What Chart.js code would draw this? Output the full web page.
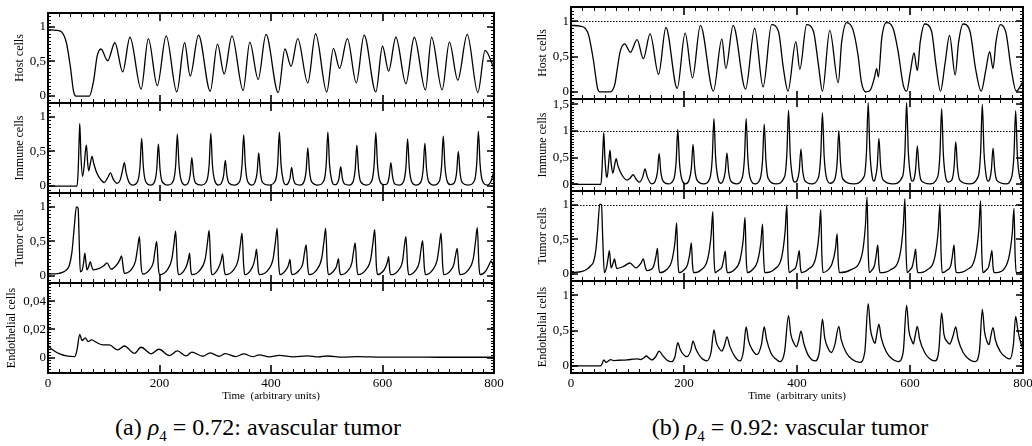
<!DOCTYPE html>
<html>
<head>
<meta charset="utf-8">
<script src="https://cdn.jsdelivr.net/npm/chart.js@4.4.1/dist/chart.umd.min.js"></script>
<style>
  body { margin: 0; background: #fff; width: 1032px; height: 446px; position: relative; overflow: hidden; }
  canvas { position: absolute; }
  .caption { position: absolute; top: 414px; font-family: "Liberation Serif", serif; font-size: 24px; color: #000; white-space: nowrap; transform: translateX(-50%); }
  .caption sub { font-size: 15px; }
</style>
</head>
<body>
<canvas id="hostA" width="510" height="106" style="left:0px;top:5px"></canvas>
<canvas id="immuneA" width="510" height="106" style="left:0px;top:95px"></canvas>
<canvas id="tumorA" width="510" height="106" style="left:0px;top:185px"></canvas>
<canvas id="endoA" width="510" height="128" style="left:0px;top:275px"></canvas>
<canvas id="hostB" width="509" height="108" style="left:523px;top:-1px"></canvas>
<canvas id="immuneB" width="509" height="108" style="left:523px;top:91px"></canvas>
<canvas id="tumorB" width="509" height="106" style="left:523px;top:183px"></canvas>
<canvas id="endoB" width="509" height="130" style="left:523px;top:273px"></canvas>
<div class="caption" style="left:258px">(a) <i>ρ</i><sub>4</sub> = 0.72: avascular tumor</div>
<div class="caption" style="left:790px">(b) <i>ρ</i><sub>4</sub> = 0.92: vascular tumor</div>
<script>
// time axis
const timeTicks = [0, 200, 400, 600, 800];

// (a) rho4 = 0.72, [time, value]
const hostA = [[0,0.96],[15,0.95],[24,0.93],[33,0.77],[40,0.43],[46,0.06],[50,0],[74,0],[82,0.23],[88,0.57],[95,0.68],[107,0.51],[120,0.77],[134,0.35],[147,0.85],[167,0.10],[180,0.83],[196,0.15],[212,0.87],[231,0.06],[245,0.77],[255,0.29],[270,0.88],[291,0.07],[304,0.75],[316,0.32],[330,0.87],[350,0.08],[362,0.78],[377,0.24],[391,0.89],[413,0.05],[425,0.68],[436,0.43],[448,0.83],[466,0.19],[480,0.90],[500,0.06],[512,0.69],[523,0.40],[537,0.83],[553,0.19],[567,0.88],[588,0.06],[600,0.72],[611,0.36],[624,0.85],[642,0.18],[657,0.85],[677,0.09],[688,0.85],[707,0.09],[720,0.78],[735,0.23],[752,0.89],[771,0.05],[784,0.66],[800,0.40]];

const immuneA = [[0,0],[52,0],[54,0.2],[56,0.7],[57,0.9],[59,0.45],[62,0.14],[65,0.3],[67,0.5],[69,0.59],[71,0.35],[73,0.22],[76,0.33],[79,0.43],[82,0.33],[88,0.18],[95,0.09],[101,0.05],[107,0.12],[112,0.19],[117,0.1],[124,0.04],[130,0.1],[134,0.24],[137,0.34],[140,0.2],[145,0.06],[152,0.015],
  [161,0.07],[165,0.28],[168,0.69],[171,0.28],[175,0.07],[184,0.015],
  [191,0.06],[195,0.24],[198,0.61],[201,0.24],[205,0.06],[215,0.015],
  [225,0.08],[229,0.3],[232,0.75],[235,0.3],[239,0.08],[246,0.015],
  [251,0.04],[255,0.16],[258,0.41],[261,0.16],[265,0.04],[275,0.015],
  [285,0.08],[289,0.3],[292,0.76],[295,0.3],[299,0.08],[306,0.015],
  [311,0.04],[315,0.15],[318,0.37],[321,0.15],[325,0.04],[334,0.015],
  [344,0.07],[348,0.3],[351,0.74],[354,0.3],[358,0.07],[366,0.015],
  [371,0.05],[375,0.19],[378,0.48],[381,0.19],[385,0.05],[396,0.015],
  [408,0.08],[412,0.31],[415,0.78],[418,0.31],[422,0.08],[427,0.02],
  [430,0.03],[434,0.11],[437,0.27],[440,0.11],[444,0.03],[452,0.015],
  [459,0.06],[463,0.22],[466,0.55],[469,0.22],[473,0.06],[484,0.015],
  [495,0.08],[499,0.31],[502,0.78],[505,0.31],[509,0.08],[514,0.02],
  [518,0.03],[522,0.11],[525,0.28],[528,0.11],[532,0.03],[540,0.015],
  [547,0.06],[551,0.24],[554,0.59],[557,0.24],[561,0.06],[571,0.015],
  [581,0.08],[585,0.31],[588,0.77],[591,0.31],[595,0.08],[602,0.02],
  [608,0.03],[612,0.14],[615,0.34],[618,0.14],[622,0.03],[630,0.015],
  [638,0.07],[642,0.27],[645,0.68],[648,0.27],[652,0.07],[660,0.015],
  [669,0.06],[673,0.25],[676,0.62],[679,0.25],[683,0.06],[692,0.015],
  [702,0.07],[706,0.29],[709,0.72],[712,0.29],[716,0.07],[722,0.02],
  [729,0.05],[733,0.2],[736,0.5],[739,0.2],[743,0.05],[754,0.015],
  [765,0.08],[769,0.32],[772,0.79],[775,0.32],[779,0.08],[788,0.015],
  [794,0.06],[798,0.16],[800,0.24]];

const tumorA = [[0,0.03],[20,0.04],[30,0.07],[38,0.15],[43,0.35],[47,0.7],[51,1.0],[54,0.98],[56,0.5],[58,0.06],[61,0.08],[64,0.2],[66,0.33],[68,0.2],[70,0.09],[73,0.14],[76,0.21],[78,0.15],[81,0.09],[92,0.11],[100,0.15],[106,0.19],[113,0.10],[122,0.15],[128,0.22],[132,0.29],[135,0.12],[137,0.04],
  [150,0.1],[157,0.22],[161,0.42],[164,0.57],[167,0.15],[170,0.03],
  [182,0.09],[189,0.2],[192,0.37],[195,0.5],[198,0.12],[200,0.02],
  [214,0.09],[222,0.24],[226,0.47],[229,0.65],[232,0.15],[234,0.02],
  [244,0.08],[249,0.16],[252,0.25],[254,0.33],[256,0.1],[258,0.02],
  [273,0.09],[282,0.25],[286,0.48],[289,0.66],[292,0.15],[294,0.02],
  [303,0.08],[308,0.16],[311,0.24],[313,0.32],[316,0.1],[318,0.02],
  [333,0.09],[341,0.23],[345,0.45],[348,0.62],[351,0.15],[353,0.02],
  [363,0.08],[369,0.18],[372,0.29],[374,0.39],[377,0.1],[379,0.02],
  [395,0.09],[404,0.26],[408,0.5],[411,0.69],[414,0.15],[416,0.02],
  [425,0.07],[430,0.13],[432,0.18],[434,0.24],[436,0.08],[438,0.02],
  [450,0.08],[457,0.18],[460,0.33],[463,0.45],[466,0.12],[468,0.02],
  [482,0.09],[491,0.26],[495,0.5],[498,0.69],[501,0.15],[503,0.02],
  [512,0.07],[517,0.13],[519,0.19],[521,0.25],[523,0.08],[525,0.02],
  [538,0.08],[545,0.19],[548,0.35],[551,0.48],[554,0.12],[556,0.02],
  [570,0.09],[579,0.25],[583,0.49],[586,0.67],[589,0.15],[591,0.02],
  [601,0.07],[606,0.14],[609,0.21],[611,0.28],[613,0.08],[615,0.02],
  [628,0.08],[636,0.22],[639,0.42],[642,0.57],[645,0.14],[647,0.02],
  [659,0.08],[666,0.2],[669,0.38],[672,0.51],[675,0.13],[677,0.02],
  [690,0.09],[698,0.23],[702,0.45],[705,0.62],[708,0.15],[710,0.02],
  [722,0.08],[728,0.17],[731,0.3],[734,0.4],[737,0.1],[739,0.02],
  [754,0.09],[763,0.26],[767,0.51],[770,0.70],[773,0.15],[775,0.02],
  [785,0.07],[791,0.16],[795,0.22],[800,0.12]];

const endoA = [[0,0.009],[5,0.0065],[10,0.005],[21,0.0026],[33,0.0012],[48,0.0007],[52,0.0054],[57,0.0165],[61,0.012],[67,0.014],[72,0.0113],[78,0.0125],[88,0.0105],[98,0.009],[110,0.009],[125,0.0054],[137,0.0082],[155,0.003],[167,0.0073],[185,0.0026],[199,0.0059],[218,0.0014],[232,0.0047],[248,0.0012],[258,0.0038],[278,0.0009],[291,0.0033],[307,0.0009],[318,0.0028],[337,0.0007],[351,0.0026],[367,0.0006],[379,0.0019],[397,0.0005],[415,0.0016],[440,0.0005],[466,0.0012],[485,0.0004],[501,0.0011],[530,0.0003],[555,0.0007],[600,0.0003],[650,0.0003],[700,0.0002],[800,0.0002]];

// (b) rho4 = 0.92
const hostB = [[0,0.94],[16,0.93],[25,0.9],[31,0.81],[36,0.62],[40,0.43],[44,0.2],[47,0.05],[51,0],[70,0],[74,0.03],[78,0.12],[82,0.33],[87,0.57],[95,0.68],[105,0.56],[117,0.74],[128,0.47],[140,0.82],[155,0.25],[168,0.91],[188,0.05],[202,0.83],[215,0.20],[229,0.94],[252,0.01],[267,0.75],[274,0.33],[287,0.94],[309,0.04],[325,0.90],[340,0.07],[355,0.95],[367,0.86],[376,0.33],[384,0.01],[398,0.71],[405,0.32],[417,0.95],[429,0.86],[438,0.38],[445,0.01],[458,0.87],[473,0.13],[479,0.7],[488,0.98],[499,0.88],[508,0.52],[514,0.14],[522,0],[530,0.03],[537,0.2],[541,0.33],[544,0.21],[550,0.76],[558,0.98],[570,0.9],[579,0.57],[588,0.1],[594,0.01],[601,0.3],[607,0.55],[613,0.30],[618,0.7],[626,0.96],[638,0.86],[646,0.38],[654,0.01],[662,0.4],[670,0.80],[680,0.24],[686,0.7],[694,0.96],[706,0.86],[716,0.33],[726,0.01],[734,0.3],[741,0.57],[747,0.33],[752,0.7],[760,0.95],[770,0.83],[779,0.33],[788,0.01],[800,0.15]];

const immuneB = [[0,0],[53,0],[55,0.3],[57,0.8],[58,0.97],[60,0.5],[63,0.14],[64,0.13],[67,0.45],[69,0.64],[71,0.4],[74,0.21],[77,0.35],[80,0.48],[83,0.35],[90,0.18],[99,0.08],[105,0.12],[110,0.18],[115,0.1],[121,0.04],[127,0.14],[131,0.29],[135,0.14],[143,0.01],
  [149,0.06],[153,0.23],[156,0.58],[159,0.23],[163,0.06],[172,0.01],
  [182,0.1],[186,0.41],[189,1.03],[192,0.41],[196,0.1],[203,0.01],
  [209,0.08],[213,0.3],[216,0.75],[219,0.3],[223,0.08],[235,0.01],
  [246,0.12],[250,0.49],[253,1.23],[256,0.49],[260,0.12],[265,0.02],
  [269,0.06],[273,0.24],[276,0.59],[279,0.24],[283,0.06],[293,0.01],
  [303,0.12],[307,0.49],[310,1.23],[313,0.49],[317,0.12],[326,0.01],
  [335,0.11],[339,0.45],[342,1.13],[345,0.45],[349,0.11],[363,0.01],
  [378,0.14],[382,0.56],[385,1.39],[388,0.56],[392,0.14],[396,0.04],
  [400,0.07],[404,0.26],[407,0.66],[410,0.26],[414,0.07],[426,0.01],
  [438,0.13],[442,0.54],[445,1.34],[448,0.54],[452,0.13],[459,0.02],
  [467,0.1],[471,0.4],[474,1.0],[477,0.4],[481,0.1],[500,0.01],
  [519,0.15],[523,0.61],[526,1.53],[529,0.61],[533,0.15],[536,0.06],
  [538,0.09],[542,0.34],[545,0.86],[548,0.34],[552,0.09],[570,0.01],
  [587,0.15],[591,0.61],[594,1.53],[597,0.61],[601,0.15],[604,0.06],
  [606,0.07],[610,0.29],[613,0.72],[616,0.29],[620,0.07],[635,0.01],
  [649,0.14],[653,0.57],[656,1.42],[659,0.57],[663,0.14],[668,0.04],
  [674,0.08],[678,0.32],[681,0.8],[684,0.32],[688,0.08],[705,0.01],
  [721,0.15],[725,0.6],[728,1.5],[731,0.6],[735,0.15],[738,0.06],
  [740,0.07],[744,0.27],[747,0.68],[750,0.27],[754,0.07],[770,0.01],
  [780,0.14],[784,0.55],[787,1.38],[790,0.55],[794,0.14],[800,0.03]];

const tumorB = [[0,0.02],[20,0.04],[28,0.07],[35,0.12],[40,0.18],[44,0.35],[47,0.62],[51,1.01],[54,1.0],[56,0.55],[59,0.02],[63,0.1],[66,0.25],[68,0.34],[70,0.15],[71,0.09],[75,0.17],[77,0.22],[79,0.14],[81,0.08],[93,0.11],[104,0.16],[115,0.09],[124,0.16],[128,0.22],[131,0.12],[134,0.05],
  [140,0.06],[146,0.11],[150,0.24],[153,0.37],[155,0.12],[157,0.02],
  [170,0.07],[178,0.18],[184,0.46],[187,0.74],[189,0.22],[191,0.02],
  [200,0.06],[206,0.13],[210,0.28],[213,0.45],[215,0.14],[217,0.02],
  [230,0.06],[242,0.22],[248,0.56],[251,0.90],[253,0.27],[255,0.02],
  [262,0.06],[267,0.1],[270,0.2],[273,0.33],[275,0.1],[277,0.02],
  [290,0.07],[299,0.2],[305,0.51],[308,0.82],[310,0.25],[312,0.02],
  [322,0.07],[330,0.18],[336,0.45],[339,0.72],[341,0.22],[343,0.02],
  [360,0.07],[373,0.25],[379,0.62],[382,1.0],[384,0.3],[386,0.02],
  [393,0.06],[398,0.1],[401,0.21],[404,0.34],[406,0.1],[408,0.02],
  [420,0.07],[433,0.23],[439,0.58],[442,0.93],[444,0.28],[446,0.02],
  [455,0.06],[462,0.15],[468,0.36],[471,0.58],[473,0.17],[475,0.02],
  [495,0.06],[515,0.28],[521,0.69],[524,1.11],[526,0.33],[528,0.02],
  [533,0.06],[537,0.12],[540,0.26],[543,0.42],[545,0.13],[547,0.02],
  [565,0.06],[582,0.27],[588,0.68],[591,1.09],[593,0.33],[595,0.02],
  [600,0.06],[604,0.11],[607,0.22],[610,0.36],[612,0.11],[614,0.02],
  [630,0.06],[644,0.25],[650,0.63],[653,1.01],[655,0.3],[657,0.02],
  [666,0.06],[672,0.12],[675,0.26],[678,0.42],[680,0.13],[682,0.02],
  [700,0.06],[716,0.27],[722,0.66],[725,1.06],[727,0.32],[729,0.02],
  [735,0.06],[739,0.1],[742,0.21],[745,0.34],[747,0.1],[749,0.02],
  [765,0.06],[775,0.24],[781,0.59],[784,0.95],[786,0.29],[788,0.02],
  [800,0.03]];

const endoB = [[0,0],[52,0],[55,0.03],[58,0.085],[62,0.05],[66,0.07],[70,0.09],[75,0.076],[85,0.08],[99,0.085],[110,0.095],[117,0.10],[123,0.09],[130,0.12],[133,0.14],[138,0.11],[143,0.085],[150,0.13],[156,0.21],[162,0.15],[170,0.08],[178,0.06],[184,0.13],[189,0.33],[193,0.24],[198,0.17],[205,0.13],[212,0.22],[216,0.35],[221,0.24],[230,0.12],[240,0.07],[248,0.2],[253,0.51],[257,0.34],[262,0.25],[267,0.21],[272,0.3],[276,0.41],[281,0.28],[290,0.13],[299,0.07],[305,0.2],[310,0.55],[314,0.36],[320,0.24],[329,0.16],[337,0.3],[342,0.55],[346,0.38],[354,0.18],[362,0.1],[370,0.06],[378,0.2],[385,0.71],[389,0.45],[394,0.33],[399,0.27],[403,0.36],[407,0.49],[412,0.32],[420,0.15],[432,0.07],[440,0.22],[445,0.66],[449,0.4],[455,0.25],[461,0.19],[467,0.3],[474,0.56],[478,0.38],[487,0.19],[498,0.09],[511,0.05],[520,0.2],[526,0.88],[530,0.52],[535,0.36],[538,0.32],[541,0.44],[545,0.59],[549,0.4],[558,0.2],[568,0.1],[579,0.06],[588,0.2],[594,0.86],[598,0.5],[603,0.36],[606,0.31],[609,0.42],[613,0.56],[617,0.38],[626,0.19],[635,0.1],[644,0.07],[651,0.22],[656,0.75],[660,0.45],[666,0.34],[670,0.31],[676,0.42],[681,0.55],[685,0.38],[694,0.19],[705,0.09],[715,0.06],[723,0.22],[728,0.8],[732,0.48],[737,0.33],[740,0.3],[743,0.42],[747,0.54],[751,0.37],[760,0.2],[770,0.12],[777,0.1],[783,0.3],[787,0.7],[791,0.5],[797,0.3],[800,0.25]];

// y tick labels per panel
const unitTicks = [0, 0.5, 1];
const immuneBTicks = [0, 0.5, 1, 1.5];
const endoATicks = [0, 0.02, 0.04];

const serif = '"Liberation Serif", "Times New Roman", serif';

function fmt(v) {
  return String(+v.toFixed(3)).replace('.', ',');
}

// frame, inward ticks and dotted reference line, drawn on top
const framePlugin = {
  id: 'frame',
  afterDraw(chart, args, opts) {
    const ctx = chart.ctx;
    const a = chart.chartArea;
    const x = chart.scales.x, y = chart.scales.y;
    ctx.save();
    ctx.strokeStyle = '#000';

    if (opts.refLine != null) {
      const py = Math.round(y.getPixelForValue(opts.refLine)) + 0.5;
      ctx.lineWidth = 1;
      ctx.setLineDash([1.5, 1.5]);
      ctx.beginPath();
      ctx.moveTo(a.left, py);
      ctx.lineTo(a.right, py);
      ctx.stroke();
      ctx.setLineDash([]);
    }

    ctx.beginPath();
    ctx.lineWidth = 1;
    for (let t = 0; t <= 800; t += 20) {
      if (t % 200 === 0) continue;
      const px = Math.round(x.getPixelForValue(t)) + 0.5;
      ctx.moveTo(px, a.top); ctx.lineTo(px, a.top + 4);
      ctx.moveTo(px, a.bottom); ctx.lineTo(px, a.bottom - 4);
    }
    const n = Math.round((y.max - y.min) / opts.minor) + 2;
    const k0 = Math.ceil(y.min / opts.minor);
    for (let k = k0; k < k0 + n; k++) {
      const v = k * opts.minor;
      if (v > y.max) break;
      const py = Math.round(y.getPixelForValue(v)) + 0.5;
      ctx.moveTo(a.left, py); ctx.lineTo(a.left + 3, py);
      ctx.moveTo(a.right, py); ctx.lineTo(a.right - 3, py);
    }
    ctx.stroke();

    ctx.beginPath();
    ctx.lineWidth = 1.6;
    timeTicks.forEach(t => {
      const px = Math.round(x.getPixelForValue(t));
      ctx.moveTo(px, a.top); ctx.lineTo(px, a.top + 8);
      ctx.moveTo(px, a.bottom); ctx.lineTo(px, a.bottom - 8);
    });
    opts.major.forEach(v => {
      const py = Math.round(y.getPixelForValue(v));
      ctx.moveTo(a.left, py); ctx.lineTo(a.left + 7, py);
      ctx.moveTo(a.right, py); ctx.lineTo(a.right - 7, py);
    });
    ctx.stroke();

    ctx.lineWidth = 2;
    ctx.strokeRect(a.left, a.top, a.right - a.left, a.bottom - a.top);
    ctx.restore();
  }
};

function makePanel(id, data, cfg) {
  const bottom = !!cfg.bottom;
  new Chart(document.getElementById(id), {
    type: 'line',
    data: {
      datasets: [{
        data: data,
        borderColor: '#000',
        borderWidth: 1.3,
        pointRadius: 0,
        cubicInterpolationMode: 'monotone',
        fill: false
      }]
    },
    options: {
      responsive: false,
      animation: false,
      events: [],
      layout: { padding: { left: 0, right: cfg.right, top: 8, bottom: bottom ? 0 : 8 } },
      plugins: {
        legend: { display: false },
        tooltip: { enabled: false },
        frame: { major: cfg.ticks, minor: cfg.minor, refLine: cfg.refLine }
      },
      scales: {
        x: {
          type: 'linear',
          min: 0,
          max: 800,
          display: bottom,
          grid: { display: false, drawTicks: false },
          border: { display: false },
          afterBuildTicks: s => { s.ticks = timeTicks.map(v => ({ value: v })); },
          afterFit: s => { s.height = bottom ? 30 : 0; s.paddingLeft = 0; s.paddingRight = 0; },
          ticks: { padding: 3, color: '#000', font: { family: serif, size: 13 }, maxRotation: 0 },
          title: {
            display: true,
            text: 'Time  (arbitrary units)',
            color: '#000',
            font: { family: serif, size: 11 },
            padding: { top: 0, bottom: 0 }
          }
        },
        y: {
          type: 'linear',
          min: cfg.min,
          max: cfg.max,
          grid: { display: false, drawTicks: false },
          border: { display: false },
          afterBuildTicks: s => { s.ticks = cfg.ticks.map(v => ({ value: v })); },
          afterFit: s => { s.width = 48; s.paddingTop = 0; s.paddingBottom = 0; },
          ticks: { padding: 2, color: '#000', font: { family: serif, size: 13 }, callback: v => fmt(v) },
          title: {
            display: true,
            text: cfg.label,
            color: '#000',
            font: { family: serif, size: 12 },
            padding: { top: cfg.titlePad == null ? 13 : cfg.titlePad, bottom: 0 }
          }
        }
      }
    },
    plugins: [framePlugin]
  });
}

makePanel('hostA', hostA, { label: 'Host cells', min: -0.1, max: 1.2, ticks: unitTicks, minor: 0.05, right: 16 });
makePanel('immuneA', immuneA, { label: 'Immune cells', min: -0.1, max: 1.2, ticks: unitTicks, minor: 0.05, right: 16 });
makePanel('tumorA', tumorA, { label: 'Tumor cells', min: -0.1, max: 1.2, ticks: unitTicks, minor: 0.05, right: 16 });
makePanel('endoA', endoA, { label: 'Endothelial cells', min: -0.011, max: 0.053, ticks: endoATicks, minor: 0.002, right: 16, bottom: true, titlePad: 5 });

makePanel('hostB', hostB, { label: 'Host cells', min: -0.1, max: 1.2, ticks: unitTicks, minor: 0.05, right: 9, refLine: 1 });
makePanel('immuneB', immuneB, { label: 'Immune cells', min: -0.125, max: 1.6, ticks: immuneBTicks, minor: 0.05, right: 9, refLine: 1 });
makePanel('tumorB', tumorB, { label: 'Tumor cells', min: -0.1, max: 1.2, ticks: unitTicks, minor: 0.05, right: 9, refLine: 1 });
makePanel('endoB', endoB, { label: 'Endothelial cells', min: -0.1, max: 1.2, ticks: unitTicks, minor: 0.05, right: 9, bottom: true });
</script>
</body>
</html>
